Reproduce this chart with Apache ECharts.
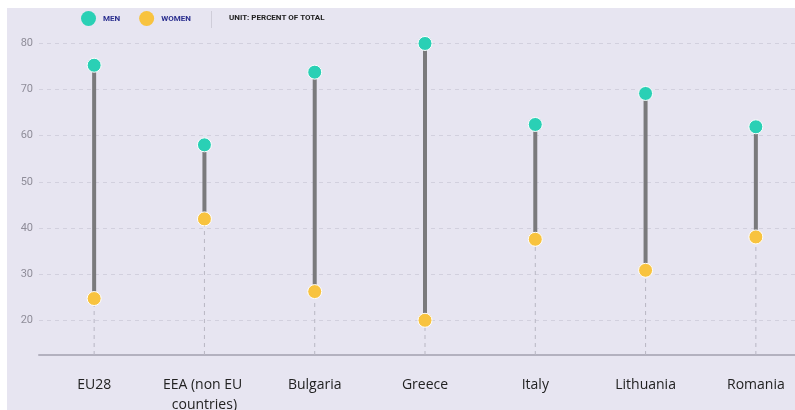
<!DOCTYPE html>
<html>
<head>
<meta charset="utf-8">
<script src="https://cdn.jsdelivr.net/npm/echarts@6/dist/echarts.min.js"></script>
<style>
html,body{margin:0;padding:0;background:#fff;}
#chart{width:795px;height:410px;}
</style>
</head>
<body>
<div id="chart"></div>
<script>
const categories = ['EU28', 'EEA (non EU countries)', 'Bulgaria', 'Greece', 'Italy', 'Lithuania', 'Romania'];
const menValues = [75.2, 58.0, 73.7, 79.9, 62.4, 69.1, 61.9];
const womenValues = [24.8, 42.0, 26.3, 20.1, 37.6, 30.9, 38.1];
const yTicks = [20, 30, 40, 50, 60, 70, 80];
const yMin = 12.6;
const yMax = 80;

const MEN_COLOR = '#2ad0b5';
const WOMEN_COLOR = '#f8c33f';
const BG = '#e7e5f1';

const chart = echarts.init(document.getElementById('chart'));

const rangeData = categories.map((c, i) => [i, womenValues[i], menValues[i]]);

chart.setOption({
  backgroundColor: BG,
  animation: false,
  graphic: [
    { type: 'rect', left: 0, top: 0, shape: { width: 795, height: 8 }, style: { fill: '#ffffff' }, silent: true },
    { type: 'rect', left: 0, top: 0, shape: { width: 7, height: 410 }, style: { fill: '#ffffff' }, silent: true },
    { type: 'line', shape: { x1: 211.5, y1: 11, x2: 211.5, y2: 28 }, style: { stroke: '#cfcdd9', lineWidth: 1 }, silent: true },
    { type: 'text', left: 229, top: 14, style: { text: 'UNIT: PERCENT OF TOTAL', fill: '#222', font: 'bold 8px Roboto' }, silent: true }
  ],
  legend: {
    data: ['MEN', 'WOMEN'],
    left: 81,
    top: 11,
    padding: 0,
    icon: 'circle',
    itemWidth: 15,
    itemHeight: 15,
    itemGap: 19,
    itemStyle: { opacity: 1, borderWidth: 0 },
    textStyle: { color: '#2b2f8f', fontSize: 8, fontWeight: 'bold', fontFamily: 'Roboto', padding: [0, 0, 0, 2] }
  },
  grid: { left: 39, right: -16, top: 43, bottom: 55, containLabel: false, outerBoundsMode: 'none' },
  xAxis: {
    type: 'category',
    data: categories,
    boundaryGap: true,
    axisLine: { show: true, lineStyle: { color: '#b3b1bf', width: 2 } },
    axisTick: { show: false },
    splitLine: { show: false },
    axisLabel: {
      interval: 0,
      margin: 20,
      color: '#222',
      fontSize: 14,
      fontFamily: 'Open Sans',
      width: 96,
      overflow: 'break',
      lineHeight: 20
    }
  },
  yAxis: {
    type: 'value',
    min: yMin,
    max: yMax,
    axisLine: { show: false },
    axisTick: { show: false, customValues: yTicks },
    axisLabel: { customValues: yTicks, color: '#8f8d99', fontSize: 11, fontFamily: 'Roboto', margin: 6 },
    splitLine: { show: true, lineStyle: { color: '#d2d0de', type: [4, 4], width: 1 } }
  },
  series: [
    {
      type: 'custom',
      name: 'range',
      data: rangeData,
      clip: false,
      silent: true,
      z: 2,
      renderItem: function (params, api) {
        const idx = api.value(0);
        const low = api.coord([idx, api.value(1)]);
        const high = api.coord([idx, api.value(2)]);
        const base = api.coord([idx, yMin]);
        return {
          type: 'group',
          children: [
            { type: 'line', shape: { x1: base[0], y1: base[1], x2: low[0], y2: low[1] },
              style: { stroke: '#b9b7c4', lineWidth: 1, lineDash: [4, 4] } },
            { type: 'line', shape: { x1: low[0], y1: low[1], x2: high[0], y2: high[1] },
              style: { stroke: '#7a7a7c', lineWidth: 4 } }
          ]
        };
      }
    },
    {
      type: 'scatter',
      name: 'MEN',
      data: menValues,
      symbol: 'circle',
      symbolSize: 14,
      clip: false,
      z: 3,
      itemStyle: { color: MEN_COLOR, borderColor: '#ffffff', borderWidth: 1, opacity: 1 }
    },
    {
      type: 'scatter',
      name: 'WOMEN',
      data: womenValues,
      symbol: 'circle',
      symbolSize: 14,
      clip: false,
      z: 3,
      itemStyle: { color: WOMEN_COLOR, borderColor: '#ffffff', borderWidth: 1, opacity: 1 }
    }
  ]
});
</script>
</body>
</html>
